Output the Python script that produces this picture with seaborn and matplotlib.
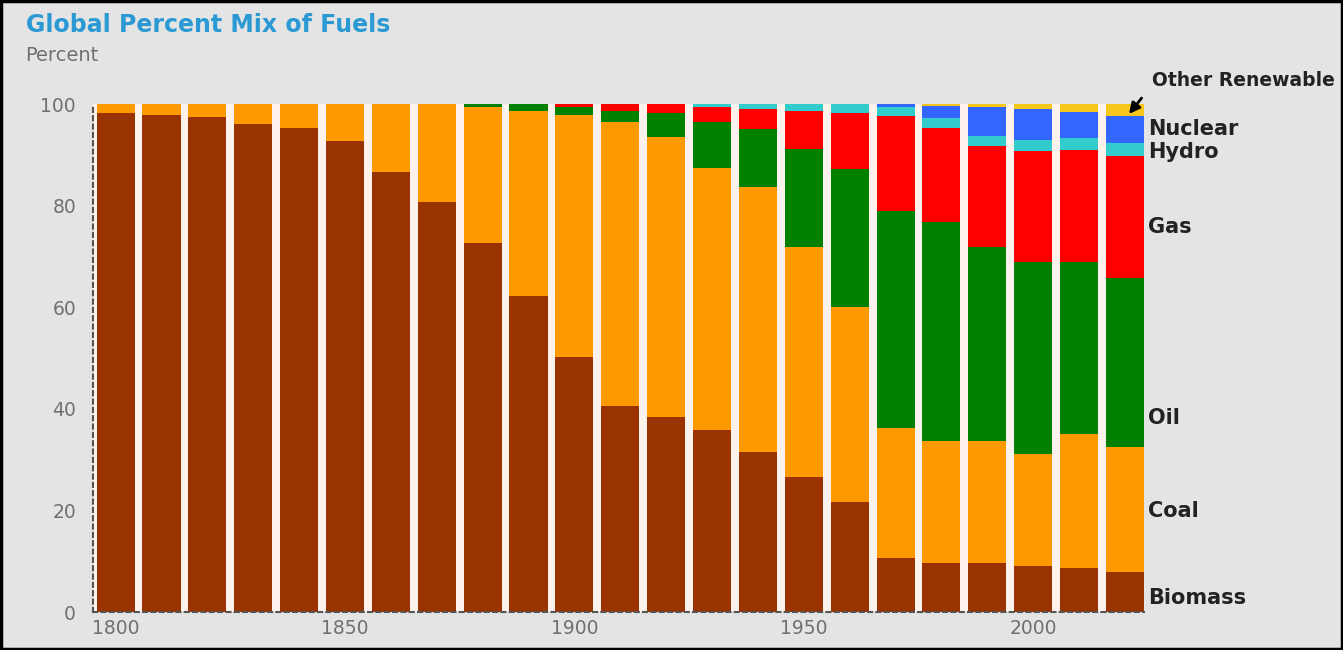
import numpy as np
import pandas as pd
import matplotlib
matplotlib.use("Agg")
import matplotlib.pyplot as plt
import matplotlib.transforms as mtransforms
from matplotlib.patches import Rectangle
import seaborn as sns

# Shares of global primary energy, percent
years = [1800, 1810, 1820, 1830, 1840, 1850, 1860, 1870, 1880, 1890, 1900, 1910,
         1920, 1930, 1940, 1950, 1960, 1970, 1980, 1990, 2000, 2010, 2020]
biomass = [98.2, 97.8, 97.4, 96.1, 95.3, 92.7, 86.6, 80.7, 72.7, 62.3, 50.3, 40.6,
           38.5, 35.9, 31.6, 26.6, 21.7, 10.7, 9.7, 9.7, 9.1, 8.7, 7.9]
coal = [1.8, 2.2, 2.6, 3.9, 4.7, 7.3, 13.4, 19.3, 26.7, 36.3, 47.5, 55.8,
        55.0, 51.5, 52.0, 45.2, 38.3, 25.6, 24.0, 24.0, 22.1, 26.4, 24.6]
oil = [0, 0, 0, 0, 0, 0, 0, 0, 0.6, 1.4, 1.6, 2.2,
       4.7, 9.0, 11.5, 19.3, 27.2, 42.6, 43.0, 38.1, 37.8, 33.9, 33.2]
gas = [0, 0, 0, 0, 0, 0, 0, 0, 0, 0, 0.6, 1.4,
       1.8, 3.0, 3.9, 7.5, 11.0, 18.7, 18.6, 19.9, 21.7, 21.9, 24.0]
hydro = [0, 0, 0, 0, 0, 0, 0, 0, 0, 0, 0, 0,
         0, 0.6, 1.0, 1.4, 1.8, 1.8, 1.9, 2.0, 2.2, 2.4, 2.6]
nuclear = [0, 0, 0, 0, 0, 0, 0, 0, 0, 0, 0, 0,
           0, 0, 0, 0, 0, 0.6, 2.4, 5.7, 6.1, 5.1, 5.3]
other = [0, 0, 0, 0, 0, 0, 0, 0, 0, 0, 0, 0,
         0, 0, 0, 0, 0, 0, 0.4, 0.6, 1.0, 1.6, 2.4]

fuels = ["Other Renewable", "Nuclear", "Hydro", "Gas", "Oil", "Coal", "Biomass"]
colors = {"Biomass": "#993300", "Coal": "#ff9900", "Oil": "#008000", "Gas": "#ff0000",
          "Hydro": "#33cccc", "Nuclear": "#3366ff", "Other Renewable": "#f7c61a"}

# long table for seaborn
wide = pd.DataFrame({"year": years, "Biomass": biomass, "Coal": coal, "Oil": oil,
                     "Gas": gas, "Hydro": hydro, "Nuclear": nuclear,
                     "Other Renewable": other})
df = wide.melt(id_vars="year", var_name="fuel", value_name="share")

bg = "#e4e4e4"
fig = plt.figure(figsize=(13.43, 6.5), dpi=100, facecolor=bg)
ax = fig.add_axes([0.069, 0.058, 0.783, 0.782])
ax.set_facecolor("#fdf3ec")

sns.histplot(data=df, x="year", weights="share", hue="fuel", hue_order=fuels,
             multiple="stack", binwidth=10, binrange=(1795, 2025), shrink=0.83,
             palette=colors, alpha=1, linewidth=0, legend=False, ax=ax)

ax.set_xlim(1795, 2024.2)
ax.set_ylim(0, 100)
ax.set_xlabel("")
ax.set_ylabel("")
ax.set_xticks([1800, 1850, 1900, 1950, 2000])
ax.set_yticks([0, 20, 40, 60, 80, 100])
ax.tick_params(axis="both", length=0, labelsize=13.5, labelcolor="#707070")
ax.tick_params(axis="y", pad=12)
ax.tick_params(axis="x", pad=5)
for s in ["top", "right"]:
    ax.spines[s].set_visible(False)
for s in ["left", "bottom"]:
    ax.spines[s].set_linestyle((0, (2, 2)))
    ax.spines[s].set_color("#555555")
    ax.spines[s].set_linewidth(1.5)

# labels at right of the bars
trans = mtransforms.blended_transform_factory(ax.transAxes, ax.transData)
label_y = {"Nuclear": 95.1, "Hydro": 90.5, "Gas": 75.9, "Oil": 38.3,
           "Coal": 19.9, "Biomass": 2.8}
for name, yy in label_y.items():
    ax.text(1.004, yy, name, transform=trans, fontsize=15, fontweight="bold",
            color="#222222", va="center", ha="left", clip_on=False)
ax.text(1.007, 104.6, "Other Renewable", transform=trans, fontsize=13.5,
        fontweight="bold", color="#222222", va="center", ha="left", clip_on=False)
ax.annotate("", xy=(2020.5, 97.6), xytext=(2024.0, 101.6), annotation_clip=False,
            arrowprops=dict(arrowstyle="-|>", color="black", lw=2, mutation_scale=16))

fig.text(0.019, 0.962, "Global Percent Mix of Fuels", fontsize=17, fontweight="bold",
         color="#2b9ad4", va="center", ha="left")
fig.text(0.019, 0.915, "Percent", fontsize=14, color="#707070", va="center", ha="left")

fig.patches.append(Rectangle((0.001, 0.002), 0.998, 0.996, transform=fig.transFigure,
                             fill=False, edgecolor="black", linewidth=2.5))

fig.savefig("out.png", dpi=100, facecolor=bg)
